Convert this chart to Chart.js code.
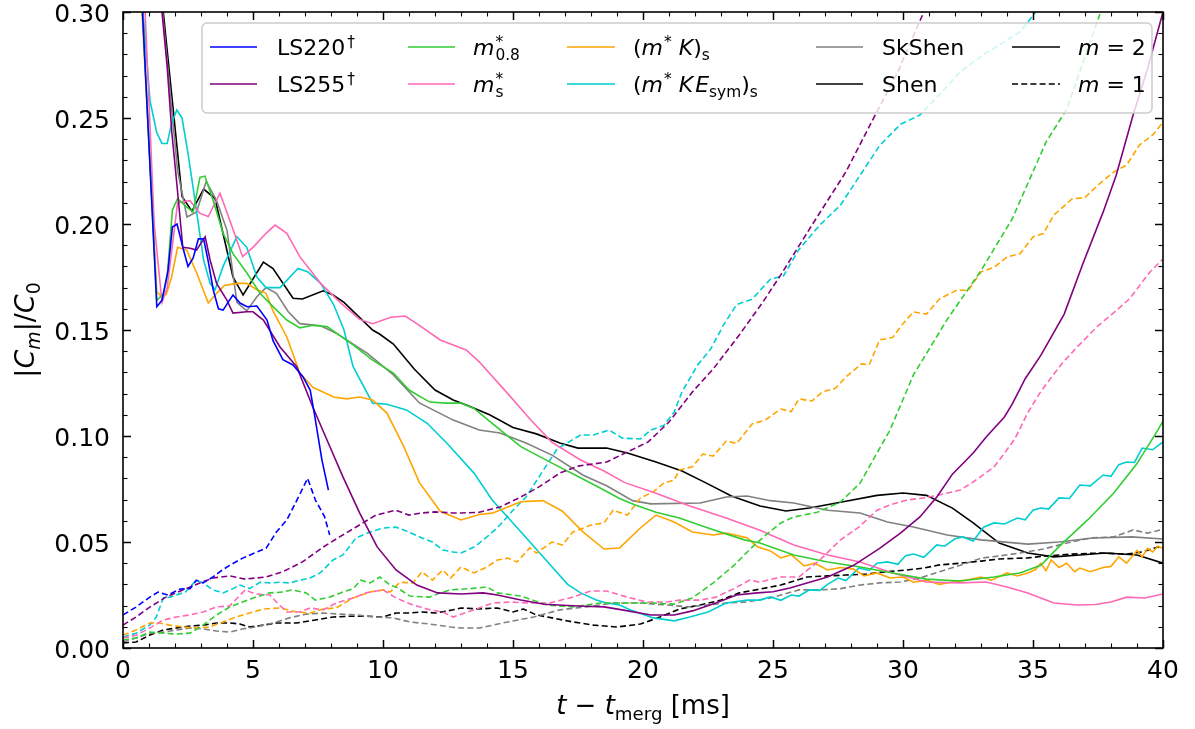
<!DOCTYPE html>
<html><head><meta charset="utf-8">
<script src="https://cdn.jsdelivr.net/npm/chart.js@4.4.1/dist/chart.umd.min.js"></script>
<style>html,body{margin:0;padding:0;background:#fff;}#wrap{width:1195px;height:729px;position:relative;}</style>
</head><body><div id="wrap"><canvas id="c" width="1195" height="729"></canvas></div>
<script>
// ---- data: [t - t_merg (ms), |C_m|/C_0] ----
const LS220_m2 = [[0.5,0.36],[0.75,0.30],[1.3,0.161],[1.5,0.164],[1.73,0.178],[1.9,0.1986],[2.08,0.2],[2.3,0.189],[2.5,0.18],[2.7,0.184],[2.9,0.193],[3.1,0.193],[3.27,0.183],[3.47,0.169],[3.67,0.160],[3.85,0.1594],[4.04,0.163],[4.23,0.1665],[4.5,0.1627],[4.77,0.161],[5.15,0.1613],[5.54,0.1547],[5.77,0.145],[6.15,0.136],[6.54,0.1335],[6.92,0.128],[7.2,0.1217],[7.38,0.109],[7.65,0.0887],[7.9,0.0745]];
const LS220_m1 = [[0,0.0156],[0.5,0.0193],[1.03,0.024],[1.35,0.0264],[1.73,0.025],[2.2,0.0278],[2.58,0.028],[2.82,0.032],[3.08,0.0307],[3.46,0.0335],[3.73,0.036],[4.1,0.039],[4.6,0.0424],[5.1,0.045],[5.5,0.047],[5.9,0.0547],[6.3,0.0604],[6.66,0.069],[7.1,0.080],[7.4,0.0698],[7.75,0.062],[7.95,0.0533]];
const LS255_m2 = [[1.0,0.36],[1.5,0.30],[1.7,0.274],[1.88,0.243],[2.07,0.219],[2.3,0.189],[2.58,0.1886],[2.83,0.1877],[3.05,0.192],[3.16,0.194],[3.35,0.183],[3.6,0.172],[4.0,0.164],[4.23,0.158],[4.76,0.1586],[5.0,0.1586],[5.4,0.1547],[6.04,0.142],[6.68,0.1327],[7.3,0.1137],[7.85,0.098],[8.46,0.0807],[9.1,0.0637],[9.77,0.0478],[10.5,0.0368],[11.3,0.0297],[12.1,0.026],[13,0.0255],[13.85,0.026],[14.4,0.025],[15.3,0.0226],[16.2,0.0206],[17.5,0.0198],[18.5,0.0194],[19.2,0.018],[20.3,0.0156],[21.2,0.0156],[21.9,0.0175],[22.8,0.0212],[23.6,0.025],[24.4,0.026],[25.0,0.0265],[25.65,0.0283],[27.1,0.0335],[28.1,0.039],[29.1,0.047],[29.9,0.0542],[30.65,0.0618],[31.3,0.0712],[31.9,0.082],[32.7,0.092],[33.2,0.0995],[33.9,0.109],[34.2,0.115],[34.7,0.127],[35.3,0.138],[36.2,0.1575],[36.9,0.1807],[37.7,0.2057],[38.2,0.223],[38.85,0.2514],[39.4,0.273],[40,0.30]];
const LS255_m1 = [[0,0.0108],[0.5,0.0146],[1.03,0.0193],[1.65,0.024],[2.3,0.0274],[2.96,0.0307],[3.46,0.033],[4.1,0.034],[4.7,0.0325],[5.5,0.0335],[6.15,0.036],[6.9,0.0406],[7.7,0.0476],[8.33,0.0524],[8.97,0.0571],[9.73,0.0627],[10.5,0.065],[11.0,0.0627],[11.5,0.0637],[12.0,0.0642],[12.7,0.0637],[13.0,0.0637],[13.7,0.064],[14.5,0.0665],[15.3,0.0712],[16.0,0.076],[16.8,0.0825],[17.5,0.0858],[18.6,0.0877],[19.4,0.0925],[20.2,0.0972],[21.0,0.1066],[21.9,0.1208],[22.7,0.1316],[23.7,0.1476],[24.6,0.163],[25.3,0.176],[26.5,0.1995],[27.8,0.2245],[28.85,0.2495],[29.8,0.2717],[30.8,0.30]];
const M08_m2 = [[0.45,0.36],[0.75,0.30],[1.3,0.164],[1.55,0.167],[1.7,0.175],[1.9,0.2066],[2.1,0.212],[2.45,0.208],[2.7,0.2057],[2.96,0.222],[3.15,0.2226],[3.47,0.211],[3.85,0.1956],[4.23,0.186],[4.76,0.177],[5.27,0.1673],[5.77,0.161],[6.3,0.1547],[6.8,0.151],[7.3,0.1522],[7.85,0.1516],[8.85,0.143],[9.6,0.1358],[10.4,0.1297],[11.0,0.1217],[11.8,0.116],[12.4,0.1155],[13.0,0.1155],[13.5,0.113],[14.2,0.106],[15.3,0.095],[16.5,0.0872],[17.8,0.079],[18.35,0.0755],[19.1,0.0705],[19.7,0.0675],[20.5,0.064],[21.4,0.0613],[22.5,0.0566],[23.9,0.051],[24.5,0.0495],[25.8,0.0439],[27.1,0.0406],[28.35,0.0382],[29.6,0.0354],[30.9,0.0325],[32.2,0.0316],[33.5,0.0335],[34.5,0.0354],[35.3,0.039],[36.0,0.0478],[37.1,0.0604],[38.1,0.073],[39.0,0.087],[39.8,0.1028],[40,0.107]];
const M08_m1 = [[0,0.0038],[0.5,0.0047],[1.03,0.0075],[1.55,0.007],[2.05,0.0066],[2.58,0.007],[3.08,0.0108],[3.6,0.0156],[4.1,0.0193],[4.6,0.0217],[5.1,0.024],[5.65,0.026],[6.15,0.0264],[6.5,0.0274],[7.05,0.026],[7.4,0.0226],[7.95,0.024],[8.46,0.0264],[8.85,0.028],[9.15,0.032],[9.5,0.0307],[9.88,0.0335],[10.27,0.0297],[10.5,0.0288],[11.03,0.0245],[11.8,0.024],[12.2,0.026],[12.6,0.0274],[13.35,0.028],[14.0,0.0288],[14.4,0.026],[15.3,0.0245],[16.3,0.0203],[17.3,0.0194],[18.35,0.0212],[19.4,0.0212],[20.4,0.0212],[21.2,0.0207],[21.9,0.0236],[22.7,0.0307],[23.5,0.039],[24.2,0.0476],[24.6,0.052],[25.3,0.059],[25.8,0.0618],[26.7,0.064],[27.6,0.0689],[28.35,0.0778],[29.0,0.092],[29.5,0.1028],[30.4,0.1288],[31.7,0.155],[33.0,0.178],[34.2,0.2024],[35.5,0.2386],[36.3,0.2542],[37.1,0.2825],[37.6,0.30]];
const MS_m2 = [[0.55,0.36],[0.85,0.30],[1.2,0.2],[1.5,0.163],[1.7,0.17],[2.1,0.21],[2.58,0.211],[2.96,0.205],[3.28,0.2035],[3.73,0.2145],[4.1,0.202],[4.6,0.1846],[5.0,0.189],[5.5,0.1956],[5.85,0.1995],[6.3,0.1956],[6.8,0.1846],[7.6,0.172],[8.35,0.163],[9.1,0.155],[9.6,0.153],[10.3,0.156],[10.85,0.1566],[11.3,0.153],[12.2,0.1453],[12.6,0.1434],[13.2,0.1406],[13.7,0.135],[14.8,0.12],[15.65,0.108],[16.5,0.097],[17.6,0.0887],[18.5,0.0835],[19.3,0.078],[20.5,0.073],[21.8,0.067],[23.2,0.0613],[24.5,0.0555],[25.8,0.0486],[27.1,0.0439],[28.35,0.0406],[29.6,0.0354],[30.9,0.0311],[32.2,0.0307],[33.2,0.0311],[34.0,0.0288],[34.8,0.0259],[35.3,0.0236],[35.8,0.0212],[36.7,0.0203],[37.4,0.0205],[38.0,0.0217],[38.6,0.024],[39.3,0.0236],[40,0.0255]];
const MS_m1 = [[0,0.0047],[0.5,0.006],[1.03,0.0094],[1.55,0.0132],[2.05,0.0146],[2.58,0.0156],[3.08,0.017],[3.6,0.0194],[4.1,0.0198],[4.4,0.0236],[4.7,0.0274],[5.1,0.0255],[5.65,0.025],[5.9,0.0217],[6.3,0.017],[6.8,0.017],[7.2,0.0189],[7.7,0.018],[8.2,0.0212],[8.85,0.0236],[9.35,0.026],[10.0,0.0274],[10.5,0.0236],[11.15,0.0203],[11.8,0.018],[12.3,0.017],[12.7,0.0146],[13.5,0.018],[14.2,0.0212],[14.9,0.0217],[15.65,0.0212],[16.4,0.0212],[17.3,0.024],[18.0,0.0269],[18.6,0.0269],[19.4,0.024],[20.15,0.0217],[20.9,0.0217],[21.4,0.0226],[22.2,0.0226],[22.8,0.024],[23.5,0.028],[24.1,0.032],[24.5,0.0311],[25.3,0.0335],[26.0,0.0335],[26.8,0.0415],[27.6,0.051],[28.3,0.057],[29.0,0.065],[29.5,0.0675],[30.15,0.0698],[30.8,0.0708],[31.4,0.0722],[32.2,0.0745],[32.7,0.0783],[33.5,0.0854],[33.85,0.091],[34.3,0.0986],[34.8,0.111],[35.3,0.121],[36.1,0.134],[36.7,0.142],[37.5,0.152],[38.0,0.157],[38.7,0.1646],[39.5,0.1774],[40,0.1835]];
const MK_m2 = [[0.45,0.36],[0.73,0.30],[1.3,0.168],[1.5,0.1656],[1.67,0.167],[1.87,0.175],[2.1,0.189],[2.45,0.1877],[2.83,0.177],[3.28,0.1627],[3.6,0.1673],[3.9,0.171],[4.38,0.172],[4.76,0.172],[5.15,0.169],[5.5,0.1673],[5.77,0.159],[6.3,0.1467],[6.8,0.1297],[7.3,0.123],[8.1,0.1184],[8.6,0.1175],[9.1,0.1184],[9.6,0.117],[10.15,0.1108],[10.8,0.095],[11.4,0.078],[12.2,0.0645],[13.0,0.0604],[13.7,0.063],[14.2,0.0636],[15.3,0.069],[16.15,0.0695],[16.9,0.0645],[17.7,0.0547],[18.5,0.0467],[19.1,0.0472],[19.9,0.0566],[20.5,0.0627],[21.2,0.0594],[21.9,0.0547],[22.7,0.0533],[23.2,0.0542],[24.0,0.052],[24.4,0.0478],[24.9,0.0458],[25.3,0.0425],[25.7,0.044],[26.2,0.0387],[26.6,0.040],[27.1,0.0368],[27.6,0.038],[28.1,0.0372],[28.5,0.034],[29.0,0.0354],[29.5,0.033],[30.0,0.0335],[30.4,0.031],[30.9,0.032],[31.4,0.030],[31.9,0.0311],[32.4,0.032],[33.0,0.0335],[33.4,0.032],[34.0,0.0354],[34.4,0.034],[34.8,0.0354],[35.1,0.037],[35.3,0.040],[35.5,0.0365],[35.7,0.0415],[36.0,0.038],[36.3,0.040],[36.6,0.036],[36.8,0.0377],[37.2,0.036],[37.7,0.038],[38.0,0.0385],[38.3,0.043],[38.6,0.040],[39.0,0.046],[39.2,0.043],[39.4,0.047],[39.6,0.0453],[39.8,0.048],[40,0.047]];
const MK_m1 = [[0,0.0061],[0.5,0.0085],[1.03,0.0118],[1.4,0.0118],[1.8,0.0108],[2.3,0.0099],[2.82,0.0094],[3.33,0.0099],[3.85,0.0123],[4.35,0.0146],[4.87,0.0165],[5.4,0.0184],[6.04,0.0189],[6.67,0.017],[7.2,0.0165],[7.7,0.0184],[8.2,0.0189],[8.85,0.0236],[9.5,0.0264],[10.0,0.0274],[10.27,0.0264],[10.65,0.031],[11.15,0.0307],[11.5,0.036],[11.9,0.032],[12.3,0.0368],[12.6,0.033],[13.0,0.0382],[13.5,0.0354],[14.0,0.0382],[14.4,0.0415],[14.8,0.0424],[15.15,0.0406],[15.65,0.0472],[15.9,0.0448],[16.5,0.05],[16.9,0.0486],[17.3,0.0547],[18.0,0.058],[18.5,0.059],[18.85,0.065],[19.4,0.0627],[19.9,0.0707],[20.4,0.0737],[20.8,0.0778],[21.2,0.0792],[21.4,0.084],[21.9,0.0855],[22.3,0.0915],[22.7,0.0905],[23.2,0.0976],[23.6,0.0965],[24.2,0.1057],[24.7,0.1075],[25.3,0.1127],[25.7,0.1115],[26.0,0.1175],[26.5,0.1165],[26.9,0.1208],[27.4,0.1225],[27.8,0.1278],[28.4,0.134],[28.7,0.1335],[29.1,0.1453],[29.6,0.1465],[30.0,0.153],[30.4,0.1585],[30.9,0.1575],[31.4,0.1646],[32.1,0.169],[32.5,0.1685],[33.0,0.1774],[33.5,0.1795],[34.0,0.1844],[34.5,0.186],[35.0,0.1939],[35.4,0.1955],[35.8,0.2042],[36.5,0.2118],[37.0,0.2125],[37.5,0.2184],[38.1,0.2245],[38.6,0.2278],[39.1,0.2373],[39.6,0.242],[40,0.248]];
const MKE_m2 = [[0.5,0.36],[0.77,0.30],[1.04,0.258],[1.3,0.243],[1.5,0.238],[1.7,0.238],[1.87,0.2475],[2.07,0.2538],[2.27,0.25],[2.5,0.2333],[2.77,0.211],[3.1,0.183],[3.35,0.172],[3.54,0.169],[3.85,0.18],[4.38,0.194],[4.76,0.189],[5.15,0.175],[5.5,0.170],[6.04,0.170],[6.42,0.175],[6.73,0.179],[7.1,0.1775],[7.6,0.172],[8.1,0.162],[8.5,0.15],[8.85,0.1327],[9.6,0.1155],[10.15,0.115],[10.9,0.1123],[11.7,0.106],[12.45,0.0967],[13.5,0.0825],[14.2,0.0698],[15.3,0.0548],[16.3,0.041],[17.1,0.030],[17.6,0.026],[18.2,0.0226],[18.6,0.0212],[19.1,0.0203],[19.5,0.018],[20.4,0.0142],[21.2,0.0128],[21.8,0.0146],[22.5,0.017],[23.2,0.0212],[24.0,0.0226],[24.5,0.0226],[24.9,0.0241],[25.3,0.0225],[25.7,0.025],[26.0,0.0245],[26.4,0.0274],[26.8,0.0272],[27.1,0.030],[27.5,0.033],[27.8,0.0318],[28.3,0.0377],[28.7,0.0366],[29.0,0.040],[29.4,0.0406],[29.8,0.0395],[30.1,0.0435],[30.4,0.0443],[30.8,0.0428],[31.3,0.0486],[31.6,0.048],[32.0,0.0515],[32.3,0.0524],[32.7,0.0505],[33.1,0.057],[33.5,0.059],[33.9,0.0585],[34.4,0.0613],[34.7,0.0605],[35.0,0.065],[35.3,0.066],[35.6,0.0655],[36.0,0.0708],[36.4,0.0705],[36.8,0.0769],[37.2,0.0765],[37.7,0.0816],[38.0,0.081],[38.3,0.0865],[38.6,0.0877],[38.9,0.0875],[39.2,0.0943],[39.6,0.0935],[40,0.0972]];
const MKE_m1 = [[0,0.0052],[0.5,0.007],[1.03,0.0108],[1.28,0.0146],[1.55,0.0236],[1.8,0.024],[2.05,0.025],[2.4,0.0264],[2.82,0.032],[3.08,0.0307],[3.46,0.0274],[3.85,0.026],[4.23,0.028],[4.5,0.0297],[4.87,0.028],[5.27,0.031],[5.65,0.0307],[6.04,0.031],[6.42,0.0307],[6.8,0.032],[7.2,0.033],[7.58,0.0354],[8.08,0.0415],[8.46,0.0439],[8.96,0.0519],[9.5,0.0547],[10.0,0.0566],[10.5,0.057],[11.0,0.0547],[11.5,0.0519],[11.9,0.05],[12.3,0.0462],[12.7,0.0453],[13.0,0.0448],[13.5,0.0476],[14.0,0.0524],[14.5,0.058],[15.0,0.065],[15.5,0.0712],[16.0,0.0807],[16.7,0.0939],[17.6,0.1005],[18.1,0.1005],[18.7,0.1028],[19.2,0.099],[19.9,0.0986],[20.3,0.1028],[20.8,0.105],[21.2,0.1113],[21.5,0.1208],[22.1,0.1335],[22.6,0.141],[23.1,0.1524],[23.6,0.162],[24.2,0.1646],[24.9,0.174],[25.4,0.1755],[26.0,0.188],[26.8,0.1995],[27.6,0.209],[28.35,0.223],[29.1,0.237],[29.9,0.247],[30.65,0.2514],[31.4,0.261],[32.2,0.2717],[33.1,0.28],[33.7,0.2844],[34.5,0.2906],[35.1,0.30]];
const SKSHEN_m2 = [[1.1,0.36],[1.52,0.30],[2.1,0.225],[2.46,0.2033],[2.83,0.2057],[3.2,0.22],[3.6,0.211],[4.0,0.197],[4.38,0.163],[4.76,0.159],[5.15,0.1657],[5.5,0.170],[5.9,0.1673],[6.35,0.1587],[6.8,0.153],[7.6,0.152],[8.2,0.1485],[9.4,0.139],[10.4,0.1288],[11.4,0.1156],[12.7,0.1075],[13.7,0.1028],[14.5,0.1014],[15.5,0.0967],[16.5,0.091],[17.7,0.0815],[18.6,0.0765],[19.6,0.0695],[20.3,0.068],[22.2,0.0684],[23.2,0.0712],[24.0,0.0717],[24.9,0.0695],[25.8,0.0684],[27.1,0.065],[28.35,0.0637],[29.4,0.0594],[30.4,0.0571],[31.7,0.0533],[33.0,0.051],[34.8,0.049],[36.0,0.050],[37.3,0.0519],[38.8,0.0524],[40,0.0514]];
const SKSHEN_m1 = [[0,0.0028],[0.5,0.0047],[1.03,0.007],[1.55,0.0075],[2.05,0.0085],[2.58,0.0094],[3.08,0.009],[3.6,0.008],[4.1,0.0075],[4.6,0.009],[5.1,0.0099],[5.77,0.0118],[6.4,0.0142],[7.05,0.016],[7.7,0.0165],[8.33,0.016],[8.96,0.0156],[9.73,0.0146],[10.4,0.0142],[11.03,0.0123],[11.8,0.0113],[12.6,0.0099],[13.0,0.0094],[13.7,0.0094],[14.8,0.0123],[15.8,0.0146],[16.8,0.018],[17.8,0.0194],[18.85,0.0212],[19.9,0.0212],[20.9,0.0203],[21.7,0.0194],[22.5,0.0203],[23.2,0.0212],[24.0,0.0217],[24.9,0.0236],[25.3,0.025],[26.0,0.0274],[26.8,0.0274],[27.6,0.028],[28.35,0.0297],[29.1,0.0307],[29.9,0.0311],[30.65,0.033],[31.4,0.036],[32.2,0.039],[33.0,0.0424],[33.7,0.0434],[34.5,0.0448],[35.4,0.0467],[36.3,0.0495],[37.2,0.0519],[38.1,0.0524],[38.85,0.0557],[39.4,0.0542],[40,0.056]];
const SHEN_m2 = [[1.1,0.36],[1.55,0.30],[2.27,0.213],[2.65,0.206],[3.1,0.2165],[3.54,0.212],[4.23,0.175],[4.62,0.1665],[5.4,0.182],[5.77,0.179],[6.54,0.165],[6.9,0.1646],[7.7,0.1685],[8.08,0.1665],[8.5,0.163],[9.6,0.15],[9.88,0.148],[10.4,0.1434],[11.2,0.1316],[12.0,0.1217],[12.7,0.117],[13.3,0.1142],[14.1,0.11],[15.0,0.104],[15.9,0.101],[16.8,0.0967],[17.5,0.0943],[18.6,0.0943],[19.4,0.092],[20.5,0.0877],[21.5,0.0835],[22.4,0.078],[23.4,0.0717],[24.5,0.067],[25.5,0.0646],[26.4,0.066],[27.7,0.069],[29.0,0.072],[30.0,0.0731],[30.9,0.072],[31.9,0.066],[32.7,0.059],[33.7,0.0495],[34.8,0.0448],[35.8,0.043],[36.8,0.0439],[37.8,0.0448],[39.0,0.0439],[40,0.040]];
const SHEN_m1 = [[0,0.0024],[0.5,0.0028],[1.03,0.0061],[1.55,0.0085],[2.05,0.0094],[2.58,0.0104],[3.08,0.0108],[3.6,0.0118],[4.1,0.0118],[4.5,0.0113],[4.87,0.0099],[5.4,0.0108],[5.9,0.0118],[6.67,0.0118],[7.4,0.0132],[8.08,0.0146],[8.73,0.015],[9.35,0.015],[10.0,0.0146],[10.5,0.0165],[11.03,0.0165],[11.5,0.017],[12.04,0.0165],[12.7,0.018],[13.0,0.0189],[13.7,0.0184],[14.4,0.0189],[15.0,0.017],[15.4,0.0184],[15.9,0.0156],[16.5,0.0142],[17.3,0.0123],[18.1,0.0108],[19.0,0.0099],[19.9,0.0113],[20.65,0.0146],[21.4,0.0184],[22.2,0.0203],[23.0,0.0226],[23.7,0.026],[24.5,0.0278],[25.3,0.0297],[26.3,0.0335],[27.1,0.034],[27.8,0.0344],[28.6,0.0349],[29.4,0.036],[30.15,0.0368],[30.8,0.0377],[31.4,0.0392],[32.2,0.040],[33.0,0.041],[33.7,0.042],[34.8,0.0425],[35.5,0.0434],[36.5,0.0443],[37.6,0.0448],[38.6,0.0443],[39.2,0.0453],[39.8,0.0476],[40,0.047]];

const X_MAJOR = [0,5,10,15,20,25,30,35,40];
const Y_MAJOR = [0,0.05,0.10,0.15,0.20,0.25,0.30];

const SERIES = [
  {key:'LS220', color:'#0000ff', m2:LS220_m2, m1:LS220_m1},
  {key:'LS255', color:'#800080', m2:LS255_m2, m1:LS255_m1},
  {key:'m08', color:'#32cd32', m2:M08_m2, m1:M08_m1},
  {key:'ms', color:'#ff69b4', m2:MS_m2, m1:MS_m1},
  {key:'mK', color:'#ffa500', m2:MK_m2, m1:MK_m1},
  {key:'mKE', color:'#00ced1', m2:MKE_m2, m1:MKE_m1},
  {key:'SkShen', color:'#808080', m2:SKSHEN_m2, m1:SKSHEN_m1},
  {key:'Shen', color:'#000000', m2:SHEN_m2, m1:SHEN_m1}
];
const DASH = [6,3.2];
const FONT = '"DejaVu Sans", sans-serif';

const datasets = [];
SERIES.forEach(s => {
  datasets.push({label:s.key+' m=2', data:s.m2.map(p=>({x:p[0],y:p[1]})), borderColor:s.color, borderWidth:1.6, pointRadius:0, tension:0, fill:false});
  datasets.push({label:s.key+' m=1', data:s.m1.map(p=>({x:p[0],y:p[1]})), borderColor:s.color, borderWidth:1.6, borderDash:DASH, pointRadius:0, tension:0, fill:false});
});

function rich(ctx, x, y, parts, fs, measureOnly) {
  let cx = x, lastStart = x, lastEnd = x;
  for (const p of parts) {
    const size = p.pos ? fs*0.7 : fs;
    ctx.font = (p.it ? 'italic ' : '') + size.toFixed(1) + 'px ' + FONT;
    const w = ctx.measureText(p.t).width;
    const sx = (p.stack ? lastStart : cx) + (p.dx || 0);
    const dy = p.pos === 'sup' ? -fs*0.36 : (p.pos === 'sub' ? fs*0.24 : 0);
    if (!measureOnly) ctx.fillText(p.t, sx, y + dy);
    if (p.stack) { cx = Math.max(lastEnd, sx + w); }
    else { lastStart = sx; cx = sx + w; }
    lastEnd = cx;
  }
  return cx - x;
}

const LEGEND_ITEMS = [
  {x1:210,x2:257,tx:277,row:0,color:'#0000ff',parts:[{t:'LS220'},{t:'†',pos:'sup',dx:2}]},
  {x1:210,x2:257,tx:277,row:1,color:'#800080',parts:[{t:'LS255'},{t:'†',pos:'sup',dx:2}]},
  {x1:408,x2:455,tx:473,row:0,color:'#32cd32',parts:[{t:'m',it:true},{t:'*',pos:'sup',dx:1},{t:'0.8',pos:'sub',stack:true}]},
  {x1:408,x2:455,tx:473,row:1,color:'#ff69b4',parts:[{t:'m',it:true},{t:'*',pos:'sup',dx:1},{t:'s',pos:'sub',stack:true}]},
  {x1:567,x2:615,tx:633,row:0,color:'#ffa500',parts:[{t:'('},{t:'m',it:true},{t:'*',pos:'sup',dx:1},{t:' '},{t:'K',it:true},{t:')'},{t:'s',pos:'sub'}]},
  {x1:567,x2:615,tx:633,row:1,color:'#00ced1',parts:[{t:'('},{t:'m',it:true},{t:'*',pos:'sup',dx:1},{t:' '},{t:'K',it:true},{t:'E',it:true,dx:2},{t:'sym',pos:'sub'},{t:')'},{t:'s',pos:'sub'}]},
  {x1:816,x2:863,tx:882,row:0,color:'#808080',parts:[{t:'SkShen'}]},
  {x1:816,x2:863,tx:882,row:1,color:'#000000',parts:[{t:'Shen'}]},
  {x1:1012,x2:1060,tx:1078,row:0,color:'#000000',parts:[{t:'m',it:true},{t:' = 2'}]},
  {x1:1012,x2:1060,tx:1078,row:1,color:'#000000',dash:true,parts:[{t:'m',it:true},{t:' = 1'}]}
];

const decor = {
  id:'decor',
  afterDraw(chart) {
    const ctx = chart.ctx, xs = chart.scales.x, ys = chart.scales.y, a = chart.chartArea;
    ctx.save();
    // spines
    ctx.strokeStyle = '#000'; ctx.lineWidth = 1.6; ctx.setLineDash([]);
    ctx.strokeRect(a.left, a.top, a.right - a.left, a.bottom - a.top);
    // ticks (inward, all four sides)
    const tick = (x1,y1,x2,y2,w) => { ctx.lineWidth = w; ctx.beginPath(); ctx.moveTo(x1,y1); ctx.lineTo(x2,y2); ctx.stroke(); };
    for (let t = 0; t <= 40; t += 1) {
      const px = Math.round(xs.getPixelForValue(t)) + 0.5;
      const major = t % 5 === 0; const L = major ? 8 : 4.5, w = major ? 1.5 : 1.1;
      tick(px, a.bottom, px, a.bottom - L, w);
      tick(px, a.top, px, a.top + L, w);
    }
    for (let i = 0; i <= 30; i++) {
      const v = i / 100;
      const py = Math.round(ys.getPixelForValue(v)) + 0.5;
      const major = i % 5 === 0; const L = major ? 8 : 4.5, w = major ? 1.5 : 1.1;
      tick(a.left, py, a.left + L, py, w);
      tick(a.right, py, a.right - L, py, w);
    }
    // tick labels
    ctx.fillStyle = '#000';
    ctx.font = '25px ' + FONT;
    ctx.textBaseline = 'alphabetic';
    ctx.textAlign = 'right';
    Y_MAJOR.forEach(v => ctx.fillText(v.toFixed(2), a.left - 13, ys.getPixelForValue(v) + 9.5));
    ctx.textAlign = 'center';
    X_MAJOR.forEach(t => ctx.fillText(String(t), xs.getPixelForValue(t), a.bottom + 30));
    // axis titles
    ctx.textAlign = 'left';
    const xParts = [{t:'t',it:true},{t:' \u2212 '},{t:'t',it:true},{t:'merg',pos:'sub'},{t:' [ms]'}];
    const xw = rich(ctx, 0, 0, xParts, 26, true);
    rich(ctx, (a.left + a.right)/2 - xw/2, 714, xParts, 26);
    const yParts = [{t:'|'},{t:'C',it:true},{t:'m',it:true,pos:'sub'},{t:'|/'},{t:'C',it:true},{t:'0',pos:'sub'}];
    const yw = rich(ctx, 0, 0, yParts, 27, true);
    ctx.save();
    ctx.translate(34, (a.top + a.bottom)/2);
    ctx.rotate(-Math.PI/2);
    rich(ctx, -yw/2, 0, yParts, 27);
    ctx.restore();
    // legend
    const bx = 202, by = 23, bw = 950, bh = 90, r = 5;
    ctx.beginPath();
    ctx.moveTo(bx + r, by); ctx.lineTo(bx + bw - r, by); ctx.arcTo(bx + bw, by, bx + bw, by + r, r);
    ctx.lineTo(bx + bw, by + bh - r); ctx.arcTo(bx + bw, by + bh, bx + bw - r, by + bh, r);
    ctx.lineTo(bx + r, by + bh); ctx.arcTo(bx, by + bh, bx, by + bh - r, r);
    ctx.lineTo(bx, by + r); ctx.arcTo(bx, by, bx + r, by, r); ctx.closePath();
    ctx.fillStyle = 'rgba(255,255,255,0.8)'; ctx.fill();
    ctx.strokeStyle = '#cccccc'; ctx.lineWidth = 1.5; ctx.stroke();
    const rowsY = [47, 84];
    LEGEND_ITEMS.forEach(it => {
      const y = rowsY[it.row];
      ctx.strokeStyle = it.color; ctx.lineWidth = 1.6;
      ctx.setLineDash(it.dash ? DASH : []);
      ctx.beginPath(); ctx.moveTo(it.x1, y); ctx.lineTo(it.x2, y); ctx.stroke();
      ctx.setLineDash([]);
      ctx.fillStyle = '#000';
      rich(ctx, it.tx, y + 7.5, it.parts, 22);
    });
    ctx.restore();
  }
};

new Chart(document.getElementById('c'), {
  type:'line',
  data:{datasets},
  options:{
    responsive:false, animation:false, devicePixelRatio:1,
    layout:{padding:{left:0,right:32,top:12,bottom:0}},
    plugins:{legend:{display:false}, tooltip:{enabled:false}},
    scales:{
      x:{type:'linear', min:0, max:40, afterFit(s){s.height=81;}, grid:{display:false}, border:{display:false}, ticks:{display:false, stepSize:5}},
      y:{type:'linear', min:0, max:0.30, afterFit(s){s.width=123;}, grid:{display:false}, border:{display:false}, ticks:{display:false, stepSize:0.05}}
    }
  },
  plugins:[decor]
});
</script></body></html>
